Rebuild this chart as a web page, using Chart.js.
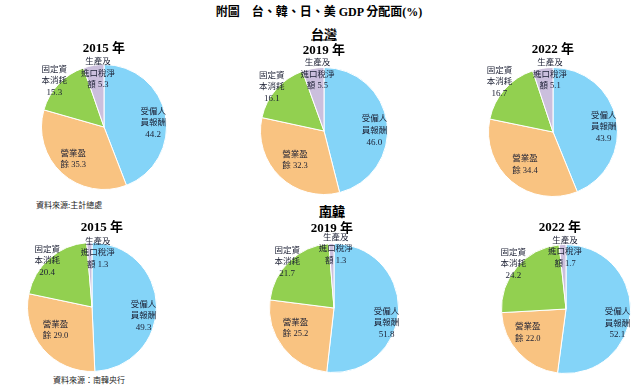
<!DOCTYPE html>
<html>
<head>
<meta charset="utf-8">
<script src="https://cdn.jsdelivr.net/npm/chart.js@4"></script>
<style>
  html, body { margin:0; padding:0; background:#fff; }
  body { width:644px; height:387px; position:relative; overflow:hidden; }
  .t { position:absolute; white-space:nowrap; transform:translate(-50%,-50%); color:#000;
       font-family:'Liberation Serif','Noto Sans CJK TC',serif; font-weight:bold; }
  .src { position:absolute; white-space:nowrap; color:#222; font-family:'Noto Sans CJK TC',sans-serif; font-size:8px; }
  canvas { position:absolute; }
</style>
</head>
<body>
<script>
// ---- data ----
const categories = ['受僱人員報酬', '營業盈餘', '固定資本消耗', '生產及進口稅淨額'];
const years = ['2015 年', '2019 年', '2022 年'];
const regions = ['台灣', '南韓'];
const taiwanValues = [
  [44.2, 35.3, 15.3, 5.3],
  [46.0, 32.3, 16.1, 5.5],
  [43.9, 34.4, 16.7, 5.1]
];
const koreaValues = [
  [49.3, 29.0, 20.4, 1.3],
  [51.8, 25.2, 21.7, 1.3],
  [52.1, 22.0, 24.2, 1.7]
];
const labelLines = [['受僱人', '員報酬'], ['營業盈', '餘'], ['固定資', '本消耗'], ['生產及', '進口稅淨', '額']];
const mainTitle = '附圖　台、韓、日、美 GDP 分配面(%)';
const sources = ['資料來源:主計總處', '資料來源：南韓央行'];

// ---- styling / layout ----
const colors = ['#84D4F8', '#F9C381', '#92D050', '#CBBFDD'];
const labelRadius = [0.8, 0.68, 1.05, 0.87];
const pies = [
  { cx: 104, cy: 127, r: 63 }, { cx: 324, cy: 131, r: 64 }, { cx: 553, cy: 132, r: 65 },
  { cx: 92, cy: 307, r: 65 }, { cx: 334, cy: 308, r: 65 }, { cx: 566, cy: 309, r: 65 }
];
// small per-label nudges [dx, dy] (layout only)
const labelNudge = [
  [[0, 5], [-2, 1], [-2, -1], [3, 0]],
  [[0, 6], [1, -2], [-2, 0], [3, -2]],
  [[0, 5], [0, -1], [-3, -5], [6, -2]],
  [[0, 10], [-3, -5], [0, 5], [8, 2]],
  [[1, 12], [-4, -7], [0, 3], [4, -3]],
  [[0, 11], [-6, -6], [-1, -1], [2, -1]]
];
const titlePos = [
  { x: 104, y: 46 }, { x: 324, y: 48 }, { x: 553, y: 47 },
  { x: 102, y: 225 }, { x: 332, y: 226 }, { x: 560, y: 225 }
];

function addText(cls, text, x, y, size, extra) {
  const d = document.createElement('div');
  d.className = cls;
  d.textContent = text;
  d.style.left = x + 'px';
  d.style.top = y + 'px';
  if (size) d.style.fontSize = size + 'px';
  if (extra) Object.assign(d.style, extra);
  document.body.appendChild(d);
}

addText('t', mainTitle, 319, 11, 12);
addText('t', regions[0], 324, 33, 13, { textDecoration: 'underline' });
addText('t', regions[1], 332, 210, 13, { textDecoration: 'underline' });
addText('src', sources[0], 36, 199);
addText('src', sources[1], 53, 374);

function makeLabelPlugin(idx) {
  return {
    id: 'sliceLabels' + idx,
    afterDatasetsDraw(chart) {
      const ctx = chart.ctx;
      const meta = chart.getDatasetMeta(0);
      const vals = chart.data.datasets[0].data;
      ctx.save();
      ctx.fillStyle = '#1b1f33';
      ctx.textAlign = 'center';
      ctx.textBaseline = 'middle';
      meta.data.forEach((arc, i) => {
        const p = arc.getProps(['x', 'y', 'startAngle', 'endAngle', 'outerRadius'], true);
        const mid = (p.startAngle + p.endAngle) / 2;
        const R = p.outerRadius * labelRadius[i];
        const nd = labelNudge[idx][i];
        const lx = p.x + Math.cos(mid) * R + nd[0];
        const ly = p.y + Math.sin(mid) * R + nd[1];
        const lines = labelLines[i].slice();
        const v = vals[i].toFixed(1);
        if (lines[lines.length - 1].length === 1) lines[lines.length - 1] += ' ' + v;
        else lines.push(v);
        const lh = 11.5;
        const y0 = ly - (lines.length - 1) * lh / 2;
        lines.forEach((ln, k) => {
          ctx.font = /^[0-9.]+$/.test(ln) ? "9px 'Liberation Serif',serif"
                                          : "8.5px 'Liberation Serif','Noto Sans CJK TC',serif";
          ctx.fillText(ln, lx, y0 + k * lh);
        });
      });
      ctx.restore();
    }
  };
}

const allValues = taiwanValues.concat(koreaValues);
allValues.forEach((vals, idx) => {
  const p = pies[idx];
  const W = 220, H = 200;
  const cv = document.createElement('canvas');
  cv.width = W; cv.height = H;
  cv.style.left = (p.cx - W / 2) + 'px';
  cv.style.top = (p.cy - H / 2) + 'px';
  cv.style.width = W + 'px'; cv.style.height = H + 'px';
  document.body.appendChild(cv);
  const padX = W / 2 - p.r, padY = H / 2 - p.r;
  new Chart(cv, {
    type: 'pie',
    data: {
      labels: categories,
      datasets: [{ data: vals, backgroundColor: colors, borderColor: '#ffffff', borderWidth: 1 }]
    },
    options: {
      responsive: false,
      animation: false,
      layout: { padding: { left: padX, right: padX, top: padY, bottom: padY } },
      plugins: { legend: { display: false }, tooltip: { enabled: false } }
    },
    plugins: [makeLabelPlugin(idx)]
  });
  const tp = titlePos[idx];
  addText('t', years[idx % 3], tp.x, tp.y, 13);
});
</script>
</body>
</html>
